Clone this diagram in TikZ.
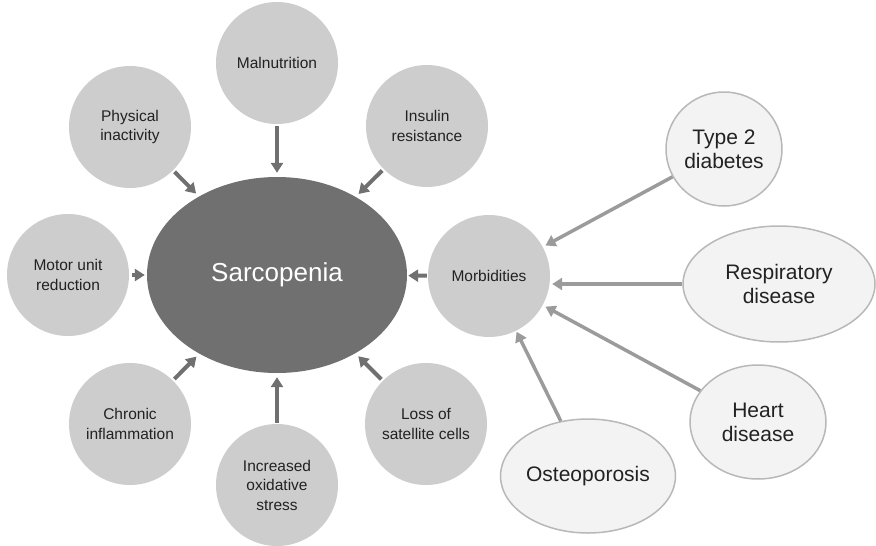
\documentclass[tikz,border=0pt]{standalone}
\usepackage{fontspec}
\setmainfont{Liberation Sans}
\usetikzlibrary{arrows.meta, shapes.geometric}

\definecolor{factorGray}{HTML}{CDCDCD}
\definecolor{sarcoGray}{HTML}{707070}
\definecolor{rimGray}{HTML}{B8B8B8}
\definecolor{paleGray}{HTML}{F3F3F3}
\definecolor{arrowDark}{HTML}{707070}
\definecolor{arrowLight}{HTML}{9B9B9B}
\definecolor{inkGray}{HTML}{222222}

\begin{document}
\begin{tikzpicture}[x=1pt,y=-1pt,->,>={Triangle[length=10pt,width=12pt]},
			factor/.style={circle,fill=factorGray,minimum size=122pt,inner sep=0pt,align=center,text=inkGray,font=\fontsize{15.5}{19.5}\selectfont},
			illness/.style={ellipse,draw=rimGray,line width=1.5pt,fill=paleGray,inner sep=0pt,align=center,text=inkGray,font=\fontsize{21}{24}\selectfont},
			toSarco/.style={draw=arrowDark,line width=4pt,shorten <=2pt,shorten >=4pt},
			toMorb/.style={draw=arrowLight,line width=3.5pt,shorten >=3pt}]

			\useasboundingbox (0,0) rectangle (876,546);

			\node[ellipse,fill=sarcoGray,minimum width=260pt,minimum height=196pt,text=white,font=\fontsize{26}{30}\selectfont] at (277,275) (sarco) {Sarcopenia};

			\node[factor] at (277,63) (malnut) {Malnutrition};
			\node[factor] at (130,127) (physInact) {Physical\\inactivity};
			\node[factor] at (427,126) (insulinRes) {Insulin\\resistance};
			\node[factor] at (68,275) (motorUnit) {Motor unit\\reduction};
			\node[factor] at (489,276) (morbid) {Morbidities};
			\node[factor] at (130,424) (chronInfl) {Chronic\\inflammation};
			\node[factor] at (277,485) (oxStress) {Increased\\oxidative\\stress};
			\node[factor] at (426,424) (satCells) {Loss of\\satellite cells};

			\node[illness,minimum width=116pt,minimum height=114pt] at (724,149) (typeTwo) {Type 2\\diabetes};
			\node[illness,minimum width=192pt,minimum height=116pt] at (779,284) (respDis) {Respiratory\\disease};
			\node[illness,minimum width=136pt,minimum height=114pt] at (758,422) (heartDis) {Heart\\disease};
			\node[illness,minimum width=170pt,minimum height=114pt] at (588,476) (osteo) {Osteoporosis};

			\draw[toSarco] (malnut) -- (sarco);
			\draw[toSarco] (physInact) -- (sarco);
			\draw[toSarco] (insulinRes) -- (sarco);
			\draw[toSarco,shorten <=3pt,shorten >=2pt] (motorUnit) -- (sarco);
			\draw[toSarco,shorten <=1pt,shorten >=1pt] (morbid) -- (sarco);
			\draw[toSarco] (chronInfl) -- (sarco);
			\draw[toSarco,shorten <=1pt] (oxStress) -- (sarco);
			\draw[toSarco] (satCells) -- (sarco);

			\draw[toMorb] (typeTwo) -- (morbid);
			\draw[toMorb,shorten >=2pt] (respDis.west) -- (respDis.west -| morbid.east);
			\draw[toMorb] (heartDis) -- (morbid);
			\draw[toMorb,shorten >=1pt] (osteo) -- (morbid);

		\end{tikzpicture}
\end{document}
